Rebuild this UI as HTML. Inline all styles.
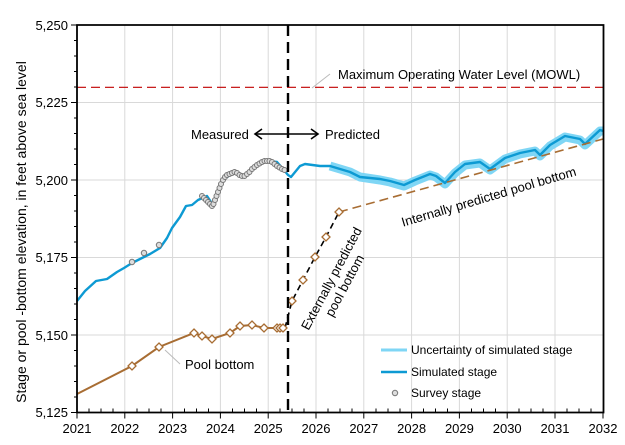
<!DOCTYPE html>
<html><head><meta charset="utf-8"><style>
body{margin:0;background:#fff}
svg{display:block;font-family:"Liberation Sans",Arial,sans-serif}
</style></head><body>
<svg width="625" height="445" viewBox="0 0 625 445" xmlns="http://www.w3.org/2000/svg">
<g stroke="#d9d9d9" stroke-width="1">
<line x1="124.8" y1="25" x2="124.8" y2="412.5"/><line x1="172.6" y1="25" x2="172.6" y2="412.5"/>
<line x1="220.4" y1="25" x2="220.4" y2="412.5"/><line x1="268.2" y1="25" x2="268.2" y2="412.5"/>
<line x1="316" y1="25" x2="316" y2="412.5"/><line x1="363.8" y1="25" x2="363.8" y2="412.5"/>
<line x1="411.6" y1="25" x2="411.6" y2="412.5"/><line x1="459.4" y1="25" x2="459.4" y2="412.5"/>
<line x1="507.2" y1="25" x2="507.2" y2="412.5"/><line x1="555" y1="25" x2="555" y2="412.5"/>
<line x1="77" y1="102.5" x2="603" y2="102.5"/><line x1="77" y1="180" x2="603" y2="180"/>
<line x1="77" y1="257.5" x2="603" y2="257.5"/><line x1="77" y1="335" x2="603" y2="335"/>
</g>
<line x1="77" y1="87.3" x2="603" y2="87.3" stroke="#c00000" stroke-width="1.2" stroke-dasharray="9,5"/>
<line x1="312" y1="88" x2="330" y2="74" stroke="#bbb" stroke-width="1"/>
<text x="338" y="79" font-size="13">Maximum Operating Water Level (MOWL)</text>
<polyline fill="none" stroke="#7fd6f5" stroke-width="9" stroke-linejoin="round" points="330,166 350,172 360,177 380,180 390,182 404,186 415,181 430,175 436,177 445,184 455,173 465,165 480,163 490,170 505,159 520,154 535,151 540,156 550,146 565,137 580,140 585,145 600,131 603,131"/>
<polyline fill="none" stroke="#0d9ad3" stroke-width="2.4" stroke-linejoin="round" points="77,301 85,291 96,281 107,279 117,272 124,268 132,263 140,259 150,254 160,248 167,238 172,228 180,217 186,206 192,205 198,200 207,196 213,205 223,180 234,172 244,177 256,166 267,161 277,162 284,170 288,175 291,177 300,166 305,164 320,166 330,166 350,172 360,177 380,179 390,181 404,185 415,180 430,174 436,176 445,183 455,172 465,164 480,162 490,169 505,158 520,153 535,150 540,155 550,145 565,136 580,139 585,144 600,130 603,131"/>
<g fill="#ddd" stroke="#777" stroke-width="1">
<circle cx="132" cy="262" r="2.7"/><circle cx="144" cy="253" r="2.7"/><circle cx="159" cy="245" r="2.7"/>
<circle cx="202" cy="196" r="2.5"/><circle cx="204" cy="198" r="2.5"/><circle cx="206" cy="200" r="2.5"/><circle cx="208" cy="202" r="2.5"/><circle cx="210" cy="204" r="2.5"/><circle cx="212" cy="206" r="2.5"/><circle cx="213.5" cy="204" r="2.5"/><circle cx="215" cy="200" r="2.5"/><circle cx="216.5" cy="196" r="2.5"/><circle cx="218" cy="192" r="2.5"/><circle cx="219.5" cy="188" r="2.5"/><circle cx="221" cy="184" r="2.5"/><circle cx="223" cy="180" r="2.5"/><circle cx="225" cy="177" r="2.5"/><circle cx="227" cy="175" r="2.5"/><circle cx="229.5" cy="174" r="2.5"/><circle cx="232" cy="173" r="2.5"/><circle cx="234.5" cy="172" r="2.5"/><circle cx="237" cy="173" r="2.5"/><circle cx="239.5" cy="175" r="2.5"/><circle cx="242" cy="176" r="2.5"/><circle cx="244.5" cy="176" r="2.5"/><circle cx="247" cy="174" r="2.5"/><circle cx="249.5" cy="172" r="2.5"/><circle cx="252" cy="169" r="2.5"/><circle cx="254.5" cy="167" r="2.5"/><circle cx="257" cy="165" r="2.5"/><circle cx="259.5" cy="163.5" r="2.5"/><circle cx="262" cy="162" r="2.5"/><circle cx="264.5" cy="161" r="2.5"/><circle cx="267" cy="161" r="2.5"/><circle cx="269.5" cy="161" r="2.5"/><circle cx="272" cy="162" r="2.5"/><circle cx="274.5" cy="164" r="2.5"/><circle cx="277" cy="166" r="2.5"/><circle cx="279.5" cy="167.5" r="2.5"/><circle cx="282" cy="169" r="2.5"/><circle cx="284.5" cy="170" r="2.5"/>
</g>
<polyline fill="none" stroke="#a86d33" stroke-width="2" points="77,394 132,366 159,347 194,333 202,336 212,339 230,333 240,326 252,325 264,328 283,328"/>
<polyline fill="none" stroke="#a86d33" stroke-width="1.6" stroke-dasharray="9,5" points="339,212 603,139"/>
<polyline fill="none" stroke="#000" stroke-width="1.6" stroke-dasharray="6,4" points="285,328 292,301 303,280 315,257 326,237 339,212"/>
<g fill="#fff" stroke="#a86d33" stroke-width="1.3">
<path d="M132,362 l4,4 -4,4 -4,-4z"/><path d="M159,343 l4,4 -4,4 -4,-4z"/><path d="M194,329 l4,4 -4,4 -4,-4z"/><path d="M202,332 l4,4 -4,4 -4,-4z"/><path d="M212,335 l4,4 -4,4 -4,-4z"/><path d="M230,329 l4,4 -4,4 -4,-4z"/><path d="M240,322 l4,4 -4,4 -4,-4z"/><path d="M252,321 l4,4 -4,4 -4,-4z"/><path d="M264,324 l4,4 -4,4 -4,-4z"/><path d="M277,324 l4,4 -4,4 -4,-4z"/><path d="M280,324 l4,4 -4,4 -4,-4z"/><path d="M283,324 l4,4 -4,4 -4,-4z"/>
<path d="M292,297 l4,4 -4,4 -4,-4z"/><path d="M303,276 l4,4 -4,4 -4,-4z"/><path d="M315,253 l4,4 -4,4 -4,-4z"/><path d="M326,233 l4,4 -4,4 -4,-4z"/><path d="M339,208 l4,4 -4,4 -4,-4z"/>
</g>
<line x1="288" y1="25" x2="288" y2="412.5" stroke="#000" stroke-width="2.4" stroke-dasharray="11,6"/>
<text x="191" y="139" font-size="13">Measured</text>
<text x="325" y="139" font-size="13">Predicted</text>
<line x1="255" y1="134" x2="318" y2="134" stroke="#000" stroke-width="1.6"/>
<path d="M262,129 l-7,5 7,5 M311,129 l7,5 -7,5" fill="none" stroke="#000" stroke-width="1.6"/>
<line x1="165" y1="350" x2="180" y2="364" stroke="#bbb" stroke-width="1"/>
<text x="185" y="369" font-size="13">Pool bottom</text>
<text transform="translate(338,282) rotate(-62)" font-size="13" text-anchor="middle"><tspan x="0" y="-3">Externally predicted</tspan><tspan x="0" y="12">pool bottom</tspan></text>
<text transform="translate(490,201) rotate(-16.5)" font-size="13" text-anchor="middle">Internally predicted pool bottom</text>
<line x1="381" y1="350" x2="407" y2="350" stroke="#7fd6f5" stroke-width="3"/>
<line x1="381" y1="372" x2="407" y2="372" stroke="#0d9ad3" stroke-width="2.5"/>
<circle cx="395" cy="393" r="2.7" fill="#ddd" stroke="#777"/>
<g font-size="12"><text x="411" y="354">Uncertainty of simulated stage</text><text x="411" y="376">Simulated stage</text><text x="411" y="397">Survey stage</text></g>
<path d="M77,25 H603.5 V412.5 H77 Z" fill="none" stroke="#000" stroke-width="1.8"/>
<g stroke="#000" stroke-width="1">
<path d="M77,25h-6M77,40.5h-3M77,56h-3M77,71.5h-3M77,87h-3M77,102.5h-6M77,118h-3M77,133.5h-3M77,149h-3M77,164.5h-3M77,180h-6M77,195.5h-3M77,211h-3M77,226.5h-3M77,242h-3M77,257.5h-6M77,273h-3M77,288.5h-3M77,304h-3M77,319.5h-3M77,335h-6M77,350.5h-3M77,366h-3M77,381.5h-3M77,397h-3M77,412.5h-6"/>
<path d="M77,412.5v6M124.8,412.5v6M172.6,412.5v6M220.4,412.5v6M268.2,412.5v6M316,412.5v6M363.8,412.5v6M411.6,412.5v6M459.4,412.5v6M507.2,412.5v6M555,412.5v6M603,412.5v6"/>
<path d="M89,412.5v-4M101,412.5v-4M113,412.5v-4M137,412.5v-4M149,412.5v-4M161,412.5v-4M184.5,412.5v-4M196.5,412.5v-4M208.5,412.5v-4M232.5,412.5v-4M244.5,412.5v-4M256.5,412.5v-4M280,412.5v-4M292,412.5v-4M304,412.5v-4M328,412.5v-4M340,412.5v-4M352,412.5v-4M376,412.5v-4M388,412.5v-4M400,412.5v-4M423.5,412.5v-4M435.5,412.5v-4M447.5,412.5v-4M471.5,412.5v-4M483.5,412.5v-4M495.5,412.5v-4M519,412.5v-4M531,412.5v-4M543,412.5v-4M567,412.5v-4M579,412.5v-4M591,412.5v-4"/>
</g>
<g font-size="13" text-anchor="end"><text x="68" y="30">5,250</text><text x="68" y="107">5,225</text><text x="68" y="185">5,200</text><text x="68" y="262">5,175</text><text x="68" y="340">5,150</text><text x="68" y="417">5,125</text></g>
<g font-size="13" text-anchor="middle"><text x="77" y="433">2021</text><text x="124.8" y="433">2022</text><text x="172.6" y="433">2023</text><text x="220.4" y="433">2024</text><text x="268.2" y="433">2025</text><text x="316" y="433">2026</text><text x="363.8" y="433">2027</text><text x="411.6" y="433">2028</text><text x="459.4" y="433">2029</text><text x="507.2" y="433">2030</text><text x="555" y="433">2031</text><text x="603" y="433">2032</text></g>
<text transform="translate(26,232) rotate(-90)" font-size="14" text-anchor="middle">Stage or pool -bottom elevation, in feet above sea level</text>
</svg>
</body></html>
